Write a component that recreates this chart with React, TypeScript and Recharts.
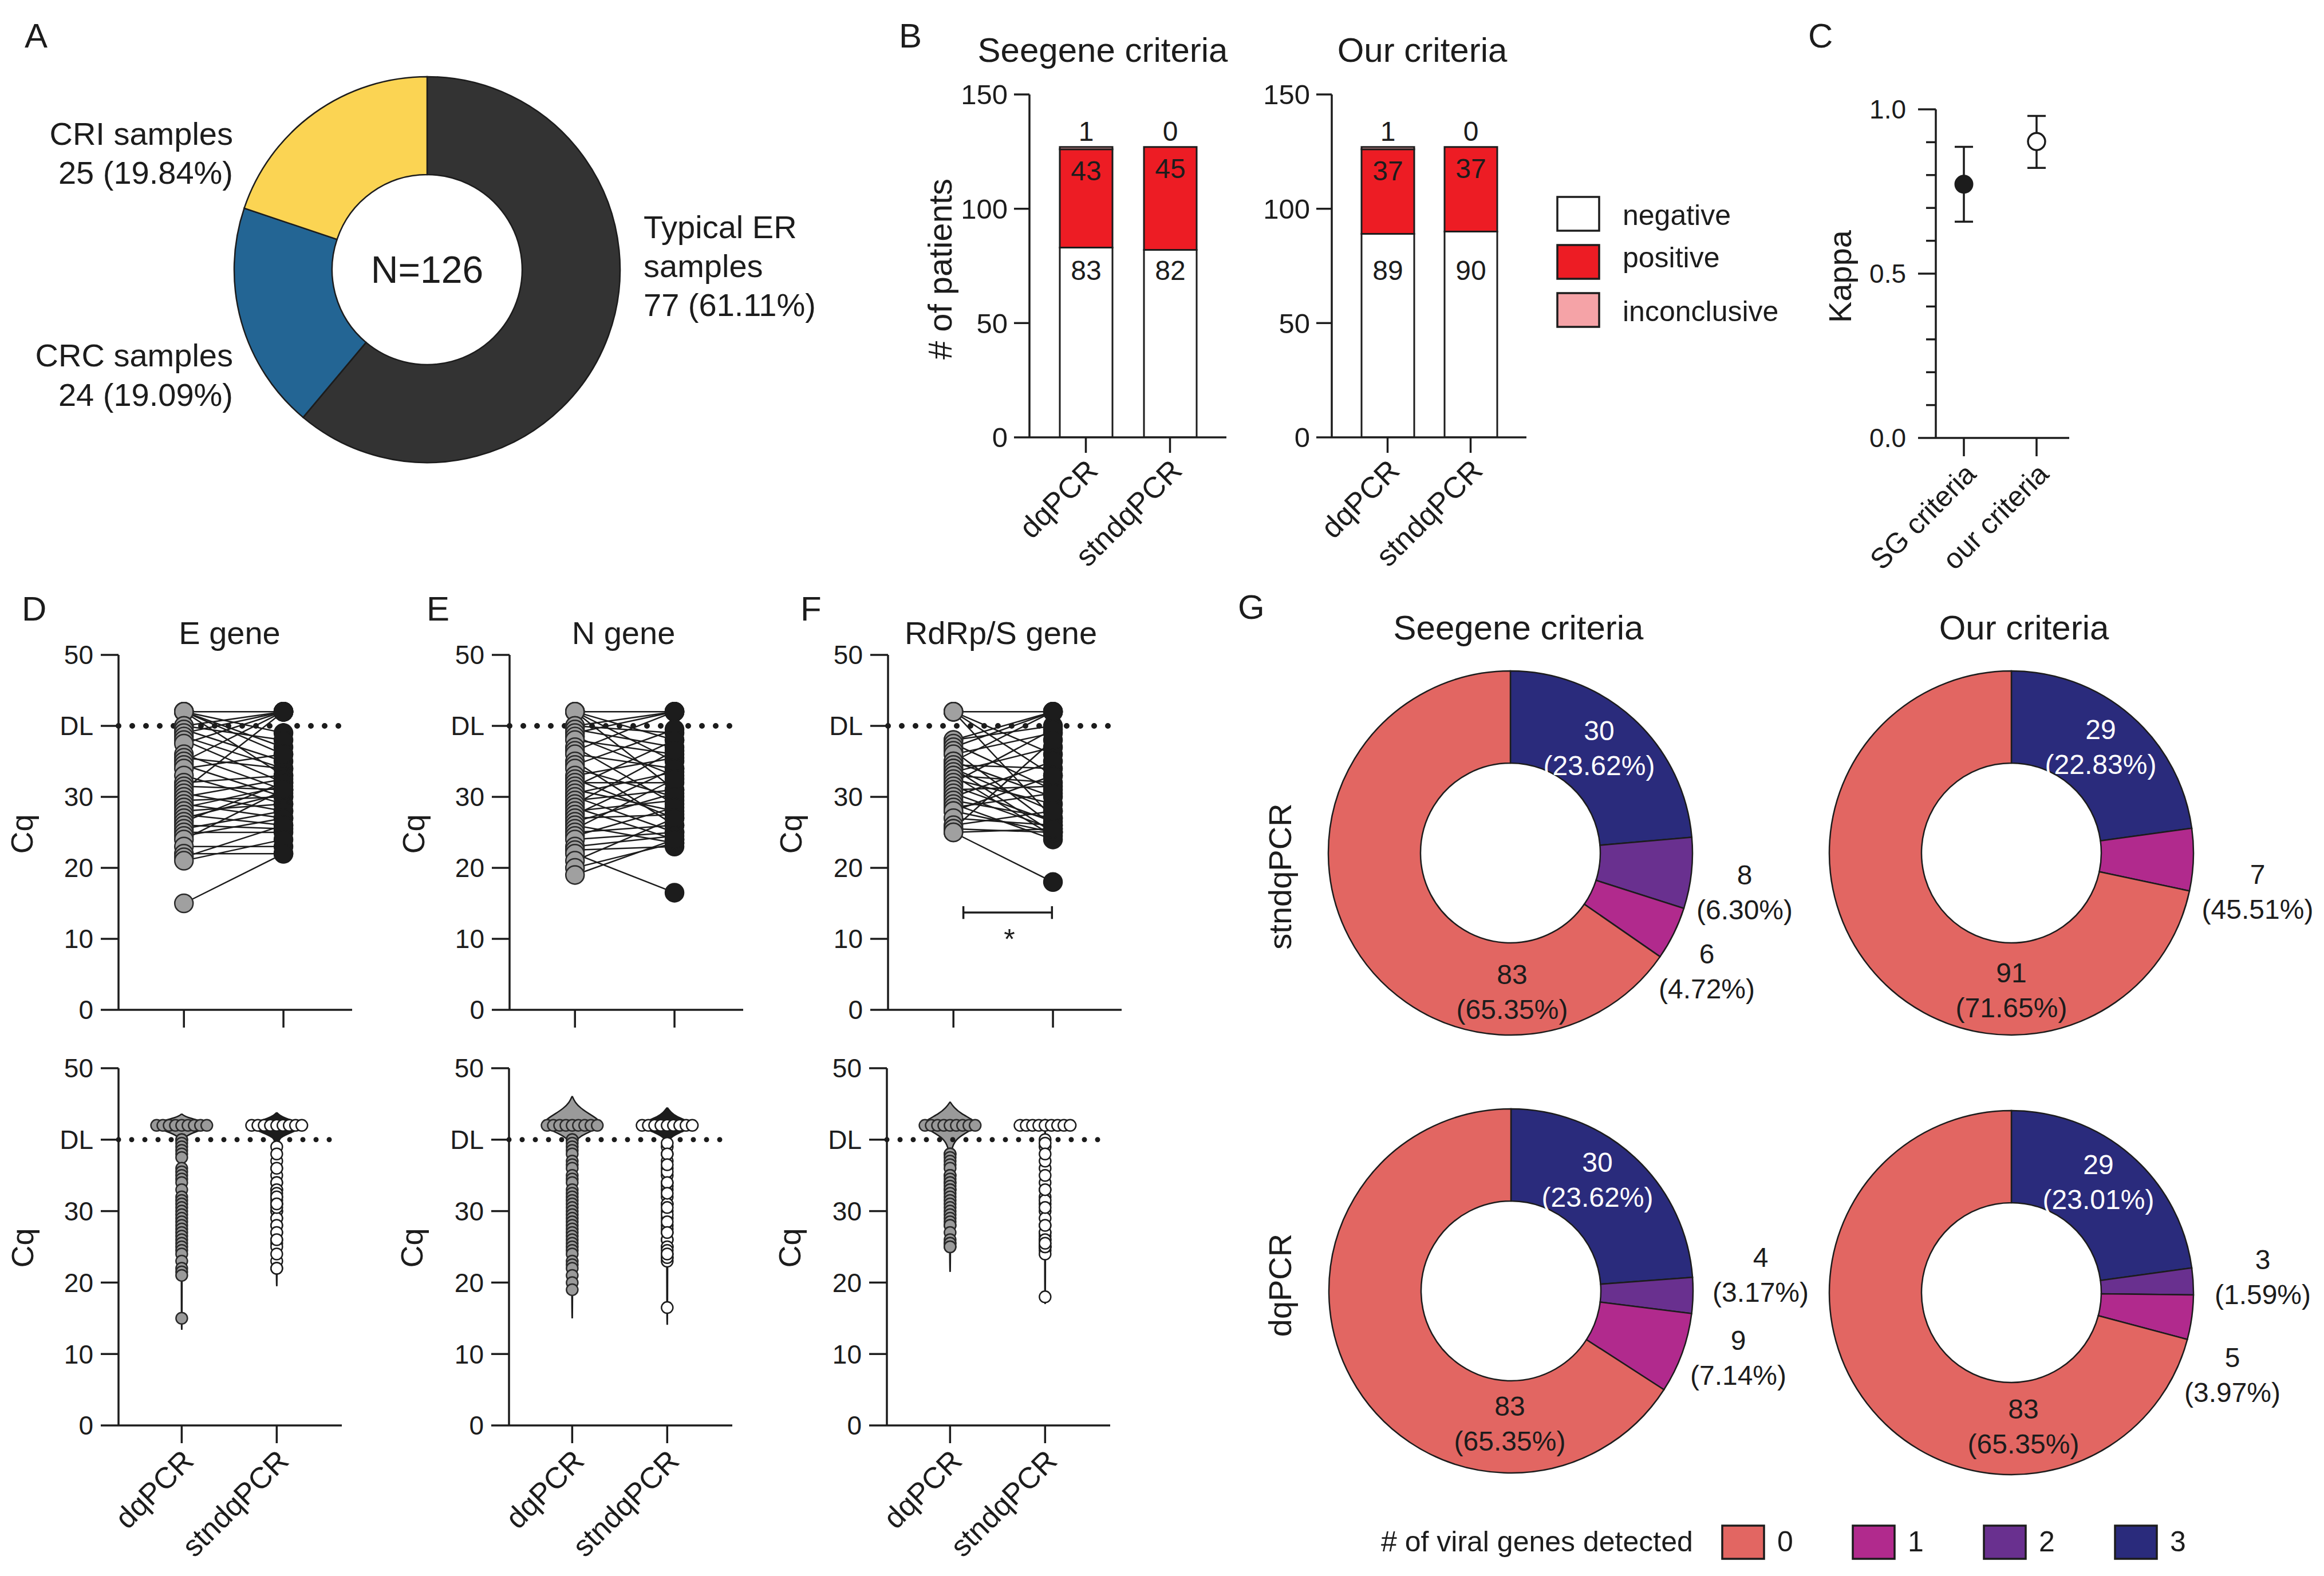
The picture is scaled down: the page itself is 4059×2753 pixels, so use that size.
import React from 'react';
import {
  BarChart, Bar, ScatterChart, Scatter, ComposedChart, Area, PieChart, Pie, Cell,
  XAxis, YAxis, ReferenceLine, ErrorBar, LabelList, Legend,
} from 'recharts';

const FONT = '"Liberation Sans", Arial, Helvetica, sans-serif';
const INK = '#1c1c1c';
const FIG_W = 4059;
const FIG_H = 2753;

// ---------------- Panel A ----------------
const A_GROUPS = ['Typical ER samples', 'CRC samples', 'CRI samples'];
const A_COUNTS = [77, 24, 25];
const A_COLORS = ['#333333', '#236594', '#FBD453'];
const A_LABELS = [['Typical ER', 'samples', '77 (61.11%)'], ['CRC samples', '24 (19.09%)'], ['CRI samples', '25 (19.84%)']];
const A_CENTER_TEXT = 'N=126';

// ---------------- Panel B ----------------
const B_METHODS = ['dqPCR', 'stndqPCR'];
const B_SEEGENE_NEGATIVE = [83, 82];
const B_SEEGENE_POSITIVE = [43, 45];
const B_SEEGENE_INCONCLUSIVE = [1, 0];
const B_OUR_NEGATIVE = [89, 90];
const B_OUR_POSITIVE = [37, 37];
const B_OUR_INCONCLUSIVE = [1, 0];
const B_TICKS = [0, 50, 100, 150];
const B_SERIES = ['negative', 'positive', 'inconclusive'];
const B_COLORS = ['#FFFFFF', '#ED1C24', '#F5A3A7'];

// ---------------- Panel C ----------------
const C_CRITERIA = ['SG criteria', 'our criteria'];
const C_KAPPA = [0.772, 0.902];
const C_LOW = [0.658, 0.822];
const C_HIGH = [0.886, 0.98];
const C_TICKS = [0, 0.1, 0.2, 0.3, 0.4, 0.5, 0.6, 0.7, 0.8, 0.9, 1.0];

// ---------------- Panels D-F ----------------
const CQ_TICKS = [0, 10, 20, 30, 40, 50];
const DL = 40;
const UNDETECTED_CQ = 42;
const GENES = ['E gene', 'N gene', 'RdRp/S gene'];
const METHODS = ['dqPCR', 'stndqPCR'];

const E_DQPCR = [42, 42, 42, 42, 42, 40, 40, 39.5, 39, 38.5, 38, 37.5, 36, 35.5, 35, 34.5, 34, 33, 32, 31.5, 31, 30.5, 30, 29.5, 29, 28.5, 28, 27.5, 27, 26.5, 26, 25.5, 25, 24.5, 24, 23, 22, 21.5, 21, 15];
const E_STNDQPCR = [39, 36, 33, 42, 37, 42, 38, 35, 42, 34, 32, 42, 31, 34, 42, 30, 36, 29, 33, 31, 42, 28, 32.5, 30, 27, 31.5, 29, 26, 30.5, 32, 25.5, 28, 25, 27, 31, 23, 22, 26, 24, 22];

const N_DQPCR = [42, 42, 42, 42, 40, 40, 39.5, 39, 38.5, 38, 37, 36.5, 36, 35, 34.5, 34, 33, 32.5, 32, 31.5, 31, 30.5, 30, 29.5, 29, 28.5, 28, 27.5, 27, 26.5, 26, 25.5, 25, 24.5, 24, 23, 22.5, 22, 21, 20, 19];
const N_STNDQPCR = [42, 38, 35, 31, 42, 39, 37, 42, 33, 36, 29, 42, 34, 26, 39.5, 30, 35.5, 27, 32, 38, 28, 33.5, 25, 31, 36.5, 24, 29.5, 34, 27.5, 30.5, 23.5, 32.5, 26, 28.5, 25, 24.5, 23, 16.5, 27, 23.5, 24];

const R_DQPCR = [42, 42, 42, 42, 38, 38, 37.5, 37, 36.5, 36, 35, 35, 34.5, 34, 34, 33.5, 33, 33, 32.5, 32, 31.5, 31, 30.5, 30, 29.5, 29, 28.5, 28, 28, 27, 26, 25.5, 25.5, 25, 25];
const R_STNDQPCR = [42, 36, 33, 27, 42, 40, 31, 42, 26, 39, 30, 42, 34, 25, 28, 37, 32, 24.5, 29, 39.5, 26.5, 31.5, 25.5, 35, 27, 24, 30.5, 25, 33, 26, 28, 38, 25, 18, 25.5];

const UNDETECTED_SHOWN = 9;

// violin outlines: [Cq, half width in category units]
const E_DQ_VIOLIN = [[13.4, 0], [14, 0.004], [39.5, 0.004], [40.3, 0.02], [41, 0.12], [41.6, 0.26], [42, 0.31], [42.5, 0.24], [43, 0.09], [43.3, 0.03], [43.6, 0]];
const E_ST_VIOLIN = [[19.5, 0], [20, 0.004], [39.5, 0.004], [40.3, 0.03], [41, 0.15], [41.6, 0.27], [42, 0.3], [42.5, 0.22], [43, 0.09], [43.4, 0.03], [43.8, 0]];
const N_DQ_VIOLIN = [[15, 0], [15.5, 0.004], [38.5, 0.006], [39.5, 0.02], [40.5, 0.08], [41.3, 0.22], [42, 0.31], [42.8, 0.28], [43.6, 0.18], [44.4, 0.09], [45.2, 0.03], [46.1, 0]];
const N_ST_VIOLIN = [[14.1, 0], [14.6, 0.004], [39.5, 0.006], [40.3, 0.03], [41, 0.13], [41.6, 0.25], [42, 0.3], [42.6, 0.22], [43.2, 0.1], [43.8, 0.04], [44.5, 0]];
const R_DQ_VIOLIN = [[21.5, 0], [22, 0.004], [37.5, 0.006], [39, 0.02], [40.2, 0.07], [41.2, 0.2], [42, 0.3], [42.8, 0.24], [43.6, 0.12], [44.5, 0.04], [45.3, 0]];
const R_ST_VIOLIN = [[17, 0], [17.6, 0.004], [42.2, 0.004], [42.9, 0]];

const R_SIGNIFICANCE = { from: 1.1, to: 1.99, cq: 13.7, cap: 0.9, text: '*' };

// ---------------- Panel G ----------------
const G_CLASSES = ['3', '2', '1', '0'];
const G_COLORS = ['#2A2B7C', '#69308F', '#B12A8D', '#E26662'];
const G_SG_STNDQPCR = [30, 8, 6, 83];
const G_OUR_STNDQPCR = [29, 0, 7, 91];
const G_SG_DQPCR = [30, 4, 9, 83];
const G_OUR_DQPCR = [29, 3, 5, 90];
const G_SG_STNDQPCR_TEXT = [['30', '(23.62%)'], ['8', '(6.30%)'], ['6', '(4.72%)'], ['83', '(65.35%)']];
const G_OUR_STNDQPCR_TEXT = [['29', '(22.83%)'], ['', ''], ['7', '(45.51%)'], ['91', '(71.65%)']];
const G_SG_DQPCR_TEXT = [['30', '(23.62%)'], ['4', '(3.17%)'], ['9', '(7.14%)'], ['83', '(65.35%)']];
const G_OUR_DQPCR_TEXT = [['29', '(23.01%)'], ['3', '(1.59%)'], ['5', '(3.97%)'], ['83', '(65.35%)']];
const G_LEGEND_TITLE = '# of viral genes detected';
const G_LEGEND_ITEMS = ['0', '1', '2', '3'];
const G_LEGEND_COLORS = ['#E26662', '#B12A8D', '#69308F', '#2A2B7C'];

// ---------------- layout ----------------
type Plot = { px: number; py: number; pw: number; ph: number };
const AXIS_W = 220;
const AXIS_LINE = { stroke: INK, strokeWidth: 3.5 };
const frame = (p: Plot, xh: number, top = 40, right = 40) => ({
  style: { position: 'absolute' as const, left: p.px - AXIS_W, top: p.py - top },
  width: AXIS_W + p.pw + right,
  height: top + p.ph + xh,
  margin: { top, right, bottom: 0, left: 0 },
});

const B_PLOTS: Plot[] = [
  { px: 1798, py: 165, pw: 344, ph: 599 },
  { px: 2326, py: 165, pw: 340, ph: 599 },
];
const C_PLOT: Plot = { px: 3381, py: 191, pw: 233, ph: 574 };
const C_XDOM = [0.614, 2.449];
const TOP_PLOTS: Plot[] = [
  { px: 207, py: 1144, pw: 408, ph: 620 },
  { px: 890, py: 1144, pw: 408, ph: 620 },
  { px: 1551, py: 1144, pw: 408, ph: 620 },
];
const TOP_XDOM = [0.343, 2.69];
const BOT_PLOTS: Plot[] = [
  { px: 207, py: 1866, pw: 390, ph: 624 },
  { px: 889, py: 1866, pw: 390, ph: 624 },
  { px: 1549, py: 1866, pw: 390, ph: 624 },
];
const BOT_XDOM = [0.335, 2.685];
const ROW_STEP = 0.066;

const A_PLACE = [
  { dx: 378, dy: [-55, 13, 81], anchor: 'start' },
  { dx: -339, dy: [169, 238], anchor: 'end' },
  { dx: -339, dy: [-218, -150], anchor: 'end' },
];
const G_PLACES = {
  sgSt: [[155, -214], [409, 38], [343, 176], [3, 212]],
  ourSt: [[156, -216], null, [430, 37], [0, 209]],
  sgDq: [[151, -225], [436, -59], [397, 86], [-2, 201]],
  ourDq: [[152, -224], [439, -58], [386, 113], [21, 203]],
};

// ---------------- small renderers ----------------
const RotTick = (p: any) => {
  const { x, y, payload, labels, fontSize = 52, dx = 24, dy = 26 } = p;
  const v = payload?.value;
  const label = labels ? labels[Math.round(v) - 1] : v;
  const ax = x + dx;
  const ay = y + dy;
  return (
    <text x={ax} y={ay} transform={`rotate(-45 ${ax} ${ay})`} textAnchor="end" fontSize={fontSize} fill={INK} fontFamily={FONT}>
      {label}
    </text>
  );
};

const KappaTick = (p: any) => {
  const axisX = p.x + 31 + 21;
  const v = p.payload.value;
  const major = Math.round(v * 10) % 5 === 0;
  return (
    <g>
      <line x1={axisX - (major ? 31 : 17)} x2={axisX} y1={p.y} y2={p.y} stroke={INK} strokeWidth={3.5} />
      {major && (
        <text x={p.x} y={p.y + 16} textAnchor="end" fontSize={46} fill={INK} fontFamily={FONT}>
          {v.toFixed(1)}
        </text>
      )}
    </g>
  );
};

const dot = (r: number, fill: string, stroke: string, sw: number) => (p: any) => (
  <circle cx={p.cx} cy={p.cy} r={r} fill={fill} stroke={stroke} strokeWidth={sw} />
);
const NoShape = () => <g />;
const cqFmt = (v: number) => (v === DL ? 'DL' : String(v));

// ---------------- Panel A ----------------
function PanelA() {
  const data = A_GROUPS.map((g, i) => ({ name: g, value: A_COUNTS[i] }));
  const renderLabel = (p: any) => {
    const pl = A_PLACE[p.index];
    return (
      <text key={`al${p.index}`} textAnchor={pl.anchor} fontSize={56} fill={INK} fontFamily={FONT}>
        {A_LABELS[p.index].map((line, i) => (
          <tspan key={i} x={p.cx + pl.dx} y={p.cy + pl.dy[i]}>{line}</tspan>
        ))}
        {p.index === 0 && (
          <tspan x={p.cx} y={p.cy + 23} textAnchor="middle" fontSize={66}>{A_CENTER_TEXT}</tspan>
        )}
      </text>
    );
  };
  return (
    <div style={{ position: 'absolute', left: 0, top: 0 }}>
      <PieChart width={1550} height={900} margin={{ top: 0, right: 0, bottom: 0, left: 0 }}>
        <Pie data={data} dataKey="value" cx={746} cy={471} innerRadius={166} outerRadius={337} startAngle={90} endAngle={-270}
          stroke={INK} strokeWidth={2.5} label={renderLabel} labelLine={false} isAnimationActive={false}>
          {data.map((d, i) => <Cell key={d.name} fill={A_COLORS[i]} />)}
        </Pie>
      </PieChart>
    </div>
  );
}

// ---------------- Panel B ----------------
const BLegend = () => (
  <svg width={460} height={250}>
    {B_SERIES.map((s, i) => (
      <g key={s}>
        <rect x={2} y={2 + i * 84} width={73} height={59} fill={B_COLORS[i]} stroke={INK} strokeWidth={3.5} />
        <text x={116} y={2 + i * 84 + 29 + 20 - (i === 1 ? 10 : 0)} fontSize={50} fill={INK} fontFamily={FONT}>{s}</text>
      </g>
    ))}
  </svg>
);

function BChart({ plot, neg, pos, inc, withLegend }: any) {
  const data = B_METHODS.map((m, i) => ({ method: m, negative: neg[i], positive: pos[i], inconclusive: inc[i] }));
  const f = frame(plot, 250, 40, withLegend ? 760 : 40);
  const lbl = { fill: INK, fontSize: 48, fontFamily: FONT };
  // a zero-height inconclusive segment draws no label, so its "0" sits on the top of the positive segment
  const zeroInconclusive = (p: any) =>
    inc[p.index] === 0 ? (
      <text x={p.x + p.width / 2} y={p.y - 11} textAnchor="middle" {...lbl}>{inc[p.index]}</text>
    ) : null;
  return (
    <div style={f.style}>
      <BarChart width={f.width} height={f.height} margin={f.margin} data={data} barSize={92}>
        <XAxis dataKey="method" height={250} padding={{ left: 25, right: 25 }} interval={0} tickSize={27} tickMargin={8}
          axisLine={AXIS_LINE} tickLine={AXIS_LINE} tick={(p: any) => <RotTick {...p} />} />
        <YAxis type="number" width={AXIS_W} domain={[0, 150]} ticks={B_TICKS} interval={0} tickSize={27} tickMargin={11}
          axisLine={AXIS_LINE} tickLine={AXIS_LINE} tick={{ fill: INK, fontSize: 49, fontFamily: FONT }} allowDataOverflow />
        <Bar dataKey="negative" name="negative" stackId="s" fill={B_COLORS[0]} stroke={INK} strokeWidth={3} isAnimationActive={false}>
          <LabelList dataKey="negative" position="insideBottom" offset={275} {...lbl} />
        </Bar>
        <Bar dataKey="positive" name="positive" stackId="s" fill={B_COLORS[1]} stroke={INK} strokeWidth={3} isAnimationActive={false}>
          <LabelList dataKey="positive" position="insideTop" offset={20} {...lbl} />
          <LabelList dataKey="inconclusive" content={zeroInconclusive} />
        </Bar>
        <Bar dataKey="inconclusive" name="inconclusive" stackId="s" fill={B_COLORS[2]} stroke={INK} strokeWidth={3} isAnimationActive={false}>
          <LabelList dataKey="inconclusive" position="top" offset={11} {...lbl} />
        </Bar>
        {withLegend && (
          <Legend layout="vertical" align="center" verticalAlign="middle"
            wrapperStyle={{ left: 2718 - (plot.px - AXIS_W), top: 344 - (plot.py - 40) - 2, width: 460, height: 250 }}
            content={() => <BLegend />} />
        )}
      </BarChart>
    </div>
  );
}

// ---------------- Panel C ----------------
function PanelC() {
  const f = frame(C_PLOT, 260, 40, 40);
  const data = C_CRITERIA.map((c, i) => ({ x: i + 1, y: C_KAPPA[i], err: [C_KAPPA[i] - C_LOW[i], C_HIGH[i] - C_KAPPA[i]] }));
  return (
    <div style={f.style}>
      <ScatterChart width={f.width} height={f.height} margin={f.margin}>
        <XAxis type="number" dataKey="x" domain={C_XDOM} ticks={[1, 2]} interval={0} height={260} tickSize={32} tickMargin={8}
          axisLine={AXIS_LINE} tickLine={AXIS_LINE} tick={(p: any) => <RotTick {...p} labels={C_CRITERIA} fontSize={50} />} allowDataOverflow />
        <YAxis type="number" dataKey="y" width={AXIS_W} domain={[0, 1]} ticks={C_TICKS} interval={0} tickSize={31} tickMargin={21}
          axisLine={AXIS_LINE} tickLine={false} tick={(p: any) => <KappaTick {...p} />} allowDataOverflow />
        <Scatter data={[data[0]]} shape={dot(15, INK, INK, 3)} isAnimationActive={false}>
          <ErrorBar dataKey="err" direction="y" width={16} stroke={INK} strokeWidth={3.5} />
        </Scatter>
        <Scatter data={[data[1]]} shape={dot(15, '#ffffff', INK, 3.5)} isAnimationActive={false}>
          <ErrorBar dataKey="err" direction="y" width={16} stroke={INK} strokeWidth={3.5} />
        </Scatter>
      </ScatterChart>
    </div>
  );
}

// ---------------- Panels D-F top (paired) ----------------
function PairedChart({ plot, dq, st, sig }: any) {
  const f = frame(plot, 70, 40, 40);
  const dqPts = dq.map((v: number) => ({ x: 1, y: v }));
  const stPts = st.map((v: number) => ({ x: 2, y: v }));
  return (
    <div style={f.style}>
      <ScatterChart width={f.width} height={f.height} margin={f.margin}>
        <XAxis type="number" dataKey="x" domain={TOP_XDOM} ticks={[1, 2]} interval={0} height={70} tickSize={31}
          axisLine={AXIS_LINE} tickLine={AXIS_LINE} tickFormatter={() => ''} allowDataOverflow />
        <YAxis type="number" dataKey="y" width={AXIS_W} domain={[0, 50]} ticks={CQ_TICKS} interval={0} tickSize={31} tickMargin={13}
          axisLine={AXIS_LINE} tickLine={AXIS_LINE} tick={{ fill: INK, fontSize: 46, fontFamily: FONT }} tickFormatter={cqFmt} allowDataOverflow />
        <ReferenceLine y={DL} stroke={INK} strokeWidth={10} strokeDasharray="0 24" strokeLinecap="round" />
        {sig && (
          <ReferenceLine segment={[{ x: sig.from, y: sig.cq }, { x: sig.to, y: sig.cq }]} stroke={INK} strokeWidth={3.5} />
        )}
        {sig && (
          <ReferenceLine segment={[{ x: sig.from, y: sig.cq - sig.cap }, { x: sig.from, y: sig.cq + sig.cap }]} stroke={INK} strokeWidth={3.5} />
        )}
        {sig && (
          <ReferenceLine segment={[{ x: sig.to, y: sig.cq - sig.cap }, { x: sig.to, y: sig.cq + sig.cap }]} stroke={INK} strokeWidth={3.5} />
        )}
        {dq.map((v: number, i: number) => (
          <Scatter key={`pair${i}`} data={[{ x: 1, y: v }, { x: 2, y: st[i] }]} line={{ stroke: INK, strokeWidth: 2.5 }}
            shape={NoShape} isAnimationActive={false} />
        ))}
        <Scatter data={dqPts} shape={dot(16, '#A0A0A0', '#2a2a2a', 2.5)} isAnimationActive={false} />
        <Scatter data={stPts} shape={dot(16, INK, INK, 2.5)} isAnimationActive={false} />
      </ScatterChart>
    </div>
  );
}

// ---------------- Panels D-F bottom (violins) ----------------
function Violin({ plot, center, profile, fill }: any) {
  const data = profile.map(([cq, hw]: number[]) => ({ cq, span: [center - hw, center + hw] }));
  return (
    <div style={{ position: 'absolute', left: plot.px, top: plot.py }}>
      <ComposedChart layout="vertical" width={plot.pw} height={plot.ph} margin={{ top: 0, right: 0, bottom: 0, left: 0 }} data={data}>
        <XAxis type="number" domain={BOT_XDOM} hide allowDataOverflow />
        <YAxis type="number" dataKey="cq" domain={[0, 50]} hide reversed allowDataOverflow />
        <Area type="basis" dataKey="span" fill={fill} fillOpacity={1} stroke={INK} strokeWidth={2.5}
          dot={false} activeDot={false} isAnimationActive={false} />
      </ComposedChart>
    </div>
  );
}

const rowPoints = (center: number) =>
  Array.from({ length: UNDETECTED_SHOWN }, (_, i) => ({ x: center + (i - (UNDETECTED_SHOWN - 1) / 2) * ROW_STEP, y: UNDETECTED_CQ }));

function ViolinPanel({ plot, dq, st, dqViolin, stViolin }: any) {
  const f = frame(plot, 250, 40, 40);
  const dqPts = dq.filter((v: number) => v < UNDETECTED_CQ).map((v: number) => ({ x: 1, y: v }));
  const stPts = st.filter((v: number) => v < UNDETECTED_CQ).map((v: number) => ({ x: 2, y: v }));
  return (
    <>
      <Violin plot={plot} center={1} profile={dqViolin} fill="#9a9a9a" />
      <Violin plot={plot} center={2} profile={stViolin} fill={INK} />
      <div style={f.style}>
        <ScatterChart width={f.width} height={f.height} margin={f.margin}>
          <XAxis type="number" dataKey="x" domain={BOT_XDOM} ticks={[1, 2]} interval={0} height={250} tickSize={31} tickMargin={8}
            axisLine={AXIS_LINE} tickLine={AXIS_LINE} tick={(p: any) => <RotTick {...p} labels={METHODS} />} allowDataOverflow />
          <YAxis type="number" dataKey="y" width={AXIS_W} domain={[0, 50]} ticks={CQ_TICKS} interval={0} tickSize={31} tickMargin={13}
            axisLine={AXIS_LINE} tickLine={AXIS_LINE} tick={{ fill: INK, fontSize: 46, fontFamily: FONT }} tickFormatter={cqFmt} allowDataOverflow />
          <ReferenceLine y={DL} stroke={INK} strokeWidth={9} strokeDasharray="0 23" strokeLinecap="round" />
          <Scatter data={dqPts} shape={dot(10, '#9a9a9a', '#2a2a2a', 2.5)} isAnimationActive={false} />
          <Scatter data={rowPoints(1)} shape={dot(10, '#9a9a9a', '#2a2a2a', 2.5)} isAnimationActive={false} />
          <Scatter data={stPts} shape={dot(10, '#ffffff', INK, 2.5)} isAnimationActive={false} />
          <Scatter data={rowPoints(2)} shape={dot(10, '#ffffff', INK, 2.5)} isAnimationActive={false} />
        </ScatterChart>
      </div>
    </>
  );
}

// ---------------- Panel G ----------------
const GLegend = () => (
  <svg width={1500} height={100}>
    <text x={0} y={42 + 18} fontSize={50} fill={INK} fontFamily={FONT}>{G_LEGEND_TITLE}</text>
    {G_LEGEND_ITEMS.map((it, i) => {
      const rx = [596, 824, 1053, 1282][i];
      return (
        <g key={it}>
          <rect x={rx} y={15} width={73} height={58} fill={G_LEGEND_COLORS[i]} stroke={INK} strokeWidth={3.5} />
          <text x={rx + 110} y={42 + 18} textAnchor="middle" fontSize={50} fill={INK} fontFamily={FONT}>{it}</text>
        </g>
      );
    })}
  </svg>
);

const makeGLabel = (texts: string[][], place: any[]) => (p: any) => {
  const pl = place[p.index];
  if (!pl) return <g key={`gl${p.index}`} />;
  const color = p.index === 0 ? '#ffffff' : INK;
  const x = p.cx + pl[0];
  return (
    <text key={`gl${p.index}`} textAnchor="middle" fontSize={48} fill={color} fontFamily={FONT}>
      <tspan x={x} y={p.cy + pl[1] + 17}>{texts[p.index][0]}</tspan>
      <tspan x={x} y={p.cy + pl[1] + 61 + 17}>{texts[p.index][1]}</tspan>
    </text>
  );
};

function GDonut({ cx, cy, values, texts, place, width = 946, height = 800, legend = false }: any) {
  const data = G_CLASSES.map((c, i) => ({ name: c, value: values[i] }));
  return (
    <div style={{ position: 'absolute', left: cx - 400, top: cy - 400 }}>
      <PieChart width={width} height={height} margin={{ top: 0, right: 0, bottom: 0, left: 0 }}>
        <Pie data={data} dataKey="value" cx={400} cy={400} innerRadius={157} outerRadius={318} startAngle={90} endAngle={-270}
          stroke={INK} strokeWidth={2.5} label={makeGLabel(texts, place)} labelLine={false} isAnimationActive={false}>
          {data.map((d, i) => <Cell key={d.name} fill={G_COLORS[i]} />)}
        </Pie>
        {legend && (
          <Legend layout="vertical" align="center" verticalAlign="middle"
            wrapperStyle={{ left: 2412 - (cx - 400), top: 2650 - (cy - 400), width: 1500, height: 100 }}
            content={() => <GLegend />} />
        )}
      </PieChart>
    </div>
  );
}

// ---------------- free text ----------------
const LETTERS = [
  ['A', 43, 83], ['B', 1570, 83], ['C', 3158, 83], ['D', 38, 1084], ['E', 745, 1084], ['F', 1398, 1084], ['G', 2162, 1081],
];
const TITLES = [
  ['Seegene criteria', 1926, 108, 60], ['Our criteria', 2484, 108, 60],
  [GENES[0], 401, 1125, 56], [GENES[1], 1089, 1125, 56], [GENES[2], 1748, 1125, 56],
  ['Seegene criteria', 2652, 1117, 60], ['Our criteria', 3535, 1117, 60],
];
const ROTATED = [
  ['# of patients', 1641, 470, 58], ['Kappa', 3213, 483, 56],
  ['Cq', 38, 1457, 54], ['Cq', 722, 1457, 54], ['Cq', 1381, 1457, 54],
  ['Cq', 39, 2180, 54], ['Cq', 719, 2180, 54], ['Cq', 1379, 2180, 54],
  ['stndqPCR', 2235, 1531, 56], ['dqPCR', 2235, 2245, 56],
];

function TextLayer() {
  return (
    <svg width={FIG_W} height={FIG_H} style={{ position: 'absolute', left: 0, top: 0 }} fontFamily={FONT}>
      {LETTERS.map(([t, x, y]) => (
        <text key={`L${t}`} x={x as number} y={y as number} fontSize={60} fill={INK}>{t}</text>
      ))}
      {TITLES.map(([t, x, y, s], i) => (
        <text key={`T${i}`} x={x as number} y={y as number} fontSize={s as number} textAnchor="middle" fill={INK}>{t}</text>
      ))}
      {ROTATED.map(([t, x, y, s], i) => (
        <text key={`R${i}`} x={x as number} y={y as number} fontSize={s as number} textAnchor="middle" dominantBaseline="central"
          transform={`rotate(-90 ${x} ${y})`} fill={INK}>{t}</text>
      ))}
      <text x={1763} y={1658} fontSize={50} textAnchor="middle" fill={INK}>{R_SIGNIFICANCE.text}</text>
    </svg>
  );
}

export default function App() {
  return (
    <div style={{ position: 'absolute', left: 0, top: 0, width: FIG_W, height: FIG_H, background: '#ffffff', fontFamily: FONT, overflow: 'hidden' }}>
      <TextLayer />
      <PanelA />
      <BChart plot={B_PLOTS[0]} neg={B_SEEGENE_NEGATIVE} pos={B_SEEGENE_POSITIVE} inc={B_SEEGENE_INCONCLUSIVE} />
      <BChart plot={B_PLOTS[1]} neg={B_OUR_NEGATIVE} pos={B_OUR_POSITIVE} inc={B_OUR_INCONCLUSIVE} withLegend />
      <PanelC />
      <PairedChart plot={TOP_PLOTS[0]} dq={E_DQPCR} st={E_STNDQPCR} />
      <PairedChart plot={TOP_PLOTS[1]} dq={N_DQPCR} st={N_STNDQPCR} />
      <PairedChart plot={TOP_PLOTS[2]} dq={R_DQPCR} st={R_STNDQPCR} sig={R_SIGNIFICANCE} />
      <ViolinPanel plot={BOT_PLOTS[0]} dq={E_DQPCR} st={E_STNDQPCR} dqViolin={E_DQ_VIOLIN} stViolin={E_ST_VIOLIN} />
      <ViolinPanel plot={BOT_PLOTS[1]} dq={N_DQPCR} st={N_STNDQPCR} dqViolin={N_DQ_VIOLIN} stViolin={N_ST_VIOLIN} />
      <ViolinPanel plot={BOT_PLOTS[2]} dq={R_DQPCR} st={R_STNDQPCR} dqViolin={R_DQ_VIOLIN} stViolin={R_ST_VIOLIN} />
      <GDonut cx={2638} cy={1490} values={G_SG_STNDQPCR} texts={G_SG_STNDQPCR_TEXT} place={G_PLACES.sgSt} width={1000} />
      <GDonut cx={3513} cy={1490} values={G_OUR_STNDQPCR} texts={G_OUR_STNDQPCR_TEXT} place={G_PLACES.ourSt} />
      <GDonut cx={2639} cy={2255} values={G_SG_DQPCR} texts={G_SG_DQPCR_TEXT} place={G_PLACES.sgDq} width={1820} height={900} legend />
      <GDonut cx={3513} cy={2258} values={G_OUR_DQPCR} texts={G_OUR_DQPCR_TEXT} place={G_PLACES.ourDq} />
    </div>
  );
}
